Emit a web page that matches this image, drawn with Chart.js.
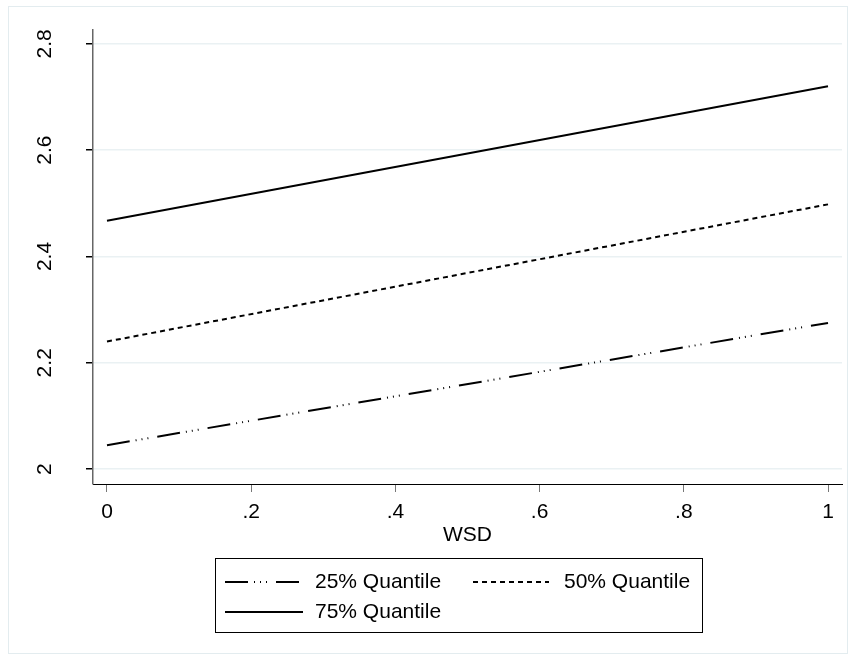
<!DOCTYPE html>
<html>
<head>
<meta charset="utf-8">
<script src="https://cdn.jsdelivr.net/npm/chart.js@4"></script>
<style>
  body { margin: 0; background: #fff; }
  #wrap { position: relative; width: 856px; height: 660px; }
  #frame { position: absolute; left: 8px; top: 6px; width: 838px; height: 646px; border: 1px solid #e3ecef; }
  canvas { position: absolute; left: 0; top: 0; }
</style>
</head>
<body>
<div id="wrap">
  <div id="frame"></div>
  <canvas id="quantileChart" width="856" height="660"></canvas>
</div>
<script>
// chart values
const wsd = [0, 1];
const q25 = [2.045, 2.275];
const q50 = [2.240, 2.498];
const q75 = [2.467, 2.720];
const xTicks = [0, 0.2, 0.4, 0.6, 0.8, 1];
const yTicks = [2, 2.2, 2.4, 2.6, 2.8];
const seriesLabels = ['25% Quantile', '50% Quantile', '75% Quantile'];

const FONT = '"Liberation Sans", Arial, sans-serif';

// Stata-like tick labels: drop leading zero, ".2" etc
function fmt(v) {
  let s = String(Math.round(v * 100) / 100);
  if (s.startsWith('0.')) s = s.slice(1);
  return s;
}

function pts(ys) {
  return wsd.map((x, i) => ({ x: x, y: ys[i] }));
}

document.addEventListener('DOMContentLoaded', function() {
  // draws rotated y labels, x title and the boxed legend
  const extras = {
    id: 'extras',
    afterDraw(chart) {
      const ctx = chart.ctx;
      const y = chart.scales.y;
      const area = chart.chartArea;
      ctx.save();
      ctx.fillStyle = '#000';
      ctx.font = '21px ' + FONT;
      ctx.textAlign = 'center';
      ctx.textBaseline = 'middle';
      y.ticks.forEach(t => {
        const py = y.getPixelForValue(t.value);
        ctx.save();
        ctx.translate(45, py);
        ctx.rotate(-Math.PI / 2);
        ctx.fillText(fmt(t.value), 0, 0);
        ctx.restore();
      });

      // x axis title
      ctx.fillText('WSD', (area.left + area.right) / 2, 535);

      // legend box
      ctx.strokeStyle = '#000';
      ctx.lineWidth = 1;
      ctx.setLineDash([]);
      ctx.strokeRect(215.5, 558.5, 487, 74);

      const slots = [
        { x0: 225, x1: 300, tx: 315, ty: 582 },
        { x0: 473, x1: 549, tx: 564, ty: 582 },
        { x0: 225, x1: 303, tx: 315, ty: 612 }
      ];
      chart.data.datasets.forEach((ds, i) => {
        const s = slots[i];
        ctx.strokeStyle = ds.borderColor;
        ctx.lineWidth = ds.borderWidth;
        ctx.setLineDash(ds.borderDash || []);
        ctx.beginPath();
        ctx.moveTo(s.x0, s.ty);
        ctx.lineTo(s.x1, s.ty);
        ctx.stroke();
        ctx.setLineDash([]);
        ctx.textAlign = 'left';
        ctx.fillText(ds.label, s.tx, s.ty);
      });
      ctx.restore();
    }
  };

  const ctx = document.getElementById('quantileChart').getContext('2d');
  new Chart(ctx, {
    type: 'line',
    data: {
      datasets: [
        {
          label: seriesLabels[0],
          data: pts(q25),
          borderColor: '#000',
          borderWidth: 2,
          borderDash: [23, 6, 1, 5, 1, 5, 1, 9]
        },
        {
          label: seriesLabels[1],
          data: pts(q50),
          borderColor: '#000',
          borderWidth: 2,
          borderDash: [5, 4]
        },
        {
          label: seriesLabels[2],
          data: pts(q75),
          borderColor: '#000',
          borderWidth: 2
        }
      ]
    },
    options: {
      responsive: false,
      animation: false,
      layout: { padding: { left: 0, top: 30, right: 14, bottom: 0 } },
      elements: {
        point: { radius: 0 },
        line: { tension: 0 }
      },
      scales: {
        x: {
          type: 'linear',
          min: -0.0194,
          max: 1.0194,
          afterBuildTicks: s => { s.ticks = xTicks.map(v => ({ value: v })); },
          afterFit: s => { s.height = 176; },
          border: { color: '#000', width: 1 },
          grid: { drawOnChartArea: false, tickLength: 8, tickColor: '#777' },
          ticks: {
            color: '#000',
            font: { size: 21, family: FONT },
            padding: 8,
            maxRotation: 0,
            callback: v => fmt(v)
          }
        },
        y: {
          type: 'linear',
          min: 1.972,
          max: 2.826,
          afterBuildTicks: s => { s.ticks = yTicks.map(v => ({ value: v })); },
          afterFit: s => { s.width = 93; },
          border: { color: '#666', width: 1.5 },
          grid: { color: '#eaf1f3', lineWidth: 1.5, tickLength: 7, tickColor: '#000' },
          ticks: { display: false }
        }
      },
      plugins: {
        legend: { display: false },
        tooltip: { enabled: false }
      }
    },
    plugins: [extras]
  });
});
</script>
</body>
</html>
